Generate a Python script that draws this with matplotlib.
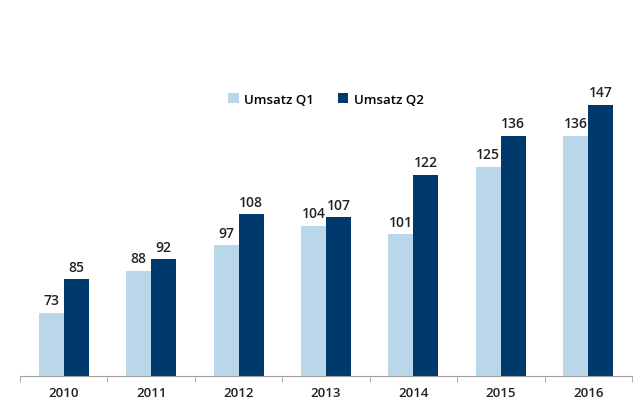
import numpy as np
import matplotlib
matplotlib.use("Agg")
import matplotlib.pyplot as plt

jahre = ["2010", "2011", "2012", "2013", "2014", "2015", "2016"]
q1 = [73, 88, 97, 104, 101, 125, 136]
q2 = [85, 92, 108, 107, 122, 136, 147]

hell = "#b9d7e8"
dunkel = "#003a6d"

plt.rcParams['font.family'] = ['Open Sans', 'DejaVu Sans']

fig = plt.figure(figsize=(6.35, 4.06), dpi=100)
ax = fig.add_axes([20/635, 29/406, 612/635, 360/406])

x = np.arange(len(jahre))
w = 0.286
b1 = ax.bar(x - w/2, q1, w, color=hell, label="Umsatz Q1")
b2 = ax.bar(x + w/2, q2, w, color=dunkel, label="Umsatz Q2")

for bars, werte in [(b1, q1), (b2, q2)]:
    for rect, v in zip(bars, werte):
        ax.annotate(str(v), (rect.get_x() + rect.get_width()/2, v), xytext=(0, 4),
                    textcoords="offset points", ha="center", va="bottom",
                    fontsize=10, fontweight="semibold", color="#222222")

ax.set_xlim(-0.5, len(jahre) - 0.5)
ax.set_ylim(50.6, 178.5)
ax.set_yticks([])
for s in ["left", "right", "top"]:
    ax.spines[s].set_visible(False)
ax.spines["bottom"].set_color("#a0a0a0")
ax.set_xticks(x)
ax.set_xticklabels(jahre, fontsize=9.5, fontweight="semibold", color="#222222")
ax.tick_params(axis="x", which="major", length=0, pad=7)
ax.set_xticks(np.arange(-0.5, len(jahre)), minor=True)
ax.tick_params(axis="x", which="minor", length=4, color="#a0a0a0")

ax.legend(loc="upper center", bbox_to_anchor=(0.5, 0.82), ncol=2, frameon=False,
          handlelength=0.8, handleheight=0.8, columnspacing=1.8,
          handletextpad=0.4, prop={"weight": "semibold", "size": 9.5})

fig.savefig("out.png", dpi=100)
